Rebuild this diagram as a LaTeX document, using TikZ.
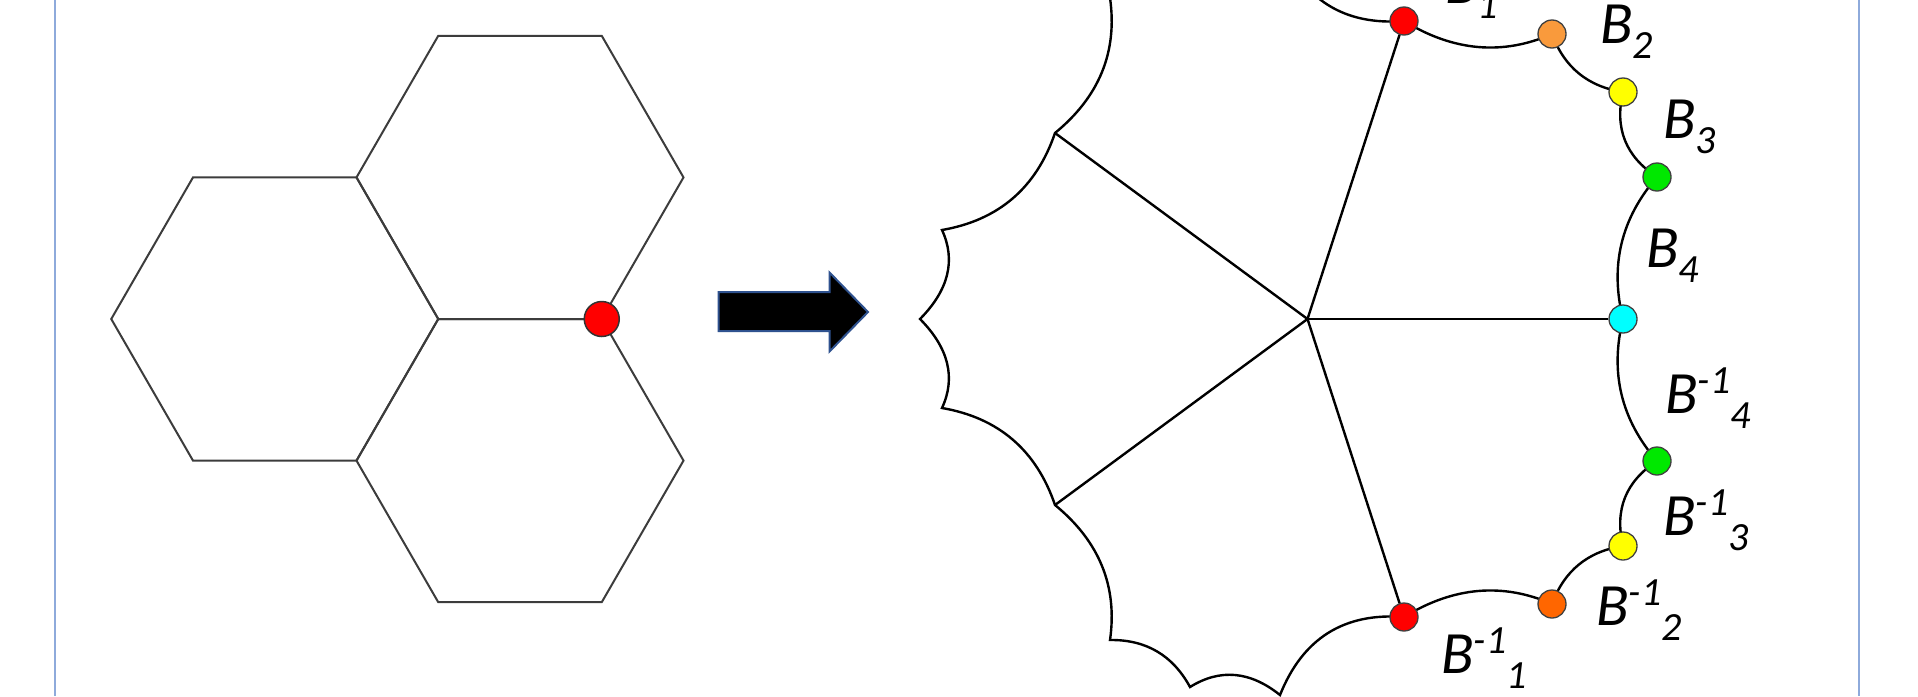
\documentclass[tikz,border=0pt]{standalone}
\usepackage{fontspec}
\setmainfont{Carlito}
\usetikzlibrary{calc}
\definecolor{bordercol}{HTML}{8EAADB}
\definecolor{hexcol}{HTML}{3C3C3C}
\definecolor{arrowedge}{HTML}{2F528F}
\definecolor{dotred}{HTML}{FF0000}
\definecolor{dotorangeA}{HTML}{F99A3C}
\definecolor{dotorangeB}{HTML}{FF6600}
\definecolor{dotyellow}{HTML}{FFFF00}
\definecolor{dotgreen}{HTML}{00E800}
\definecolor{dotcyan}{HTML}{00FFFF}
\newcommand\lblB[1]{B\raisebox{-15pt}{\fontsize{40}{42}\selectfont #1}}
\newcommand\lblBinv[1]{B\raisebox{20pt}{\fontsize{40}{42}\selectfont -1}\raisebox{-15pt}{\fontsize{40}{42}\selectfont #1}}
\begin{document}
\begin{tikzpicture}[x=1pt,y=-1pt,
  hexline/.style={draw=hexcol, line width=2pt, line join=miter},
  figline/.style={draw=black, line width=2.4pt, line join=miter, miter limit=20},
  dotnode/.style={circle, draw=black!75, line width=1.3pt, minimum size=28pt, inner sep=0pt},
  bigdot/.style={circle, draw=black!80, line width=1.5pt, minimum size=35pt, inner sep=0pt, fill=dotred},
  lbl/.style={anchor=base west, inner sep=0pt, font=\fontsize{60}{62}\selectfont\itshape},
  borderline/.style={draw=bordercol, line width=2pt},
  blockarrow/.style={fill=black, draw=arrowedge, line width=2pt, line join=miter}]
\useasboundingbox (0,0) rectangle (1918,696);
\clip (0,0) rectangle (1918,696);
\fill[white] (0,0) rectangle (1918,696);

% frame lines
\coordinate (bl1) at (54.5,0); \coordinate (bl2) at (54.5,696);
\coordinate (br1) at (1859,0); \coordinate (br2) at (1859,696);
\draw[borderline] (bl1) -- (bl2);
\draw[borderline] (br1) -- (br2);

% hexagons
\draw[hexline] (683.5,177.4) -- (601.75,35.8) -- (438.25,35.8) -- (356.5,177.4) -- (438.25,319) -- (601.75,319) -- cycle;
\draw[hexline] (438.25,319) -- (356.5,177.4) -- (193,177.4) -- (111.25,319) -- (193,460.6) -- (356.5,460.6) -- cycle;
\draw[hexline] (683.5,460.6) -- (601.75,319) -- (438.25,319) -- (356.5,460.6) -- (438.25,602.2) -- (601.75,602.2) -- cycle;
\node[bigdot] (vdot) at (601.75,319) {};

% block arrow
\draw[blockarrow] (718.5,292) -- (829.5,292) -- (829.5,272.5) -- (868,312) -- (829.5,351.5) -- (829.5,331) -- (718.5,331) -- cycle;

% right figure: vertices
\coordinate (C) at (1307.5,319);
\coordinate (P0) at (1110,-2);
\coordinate (P1) at (1055,133);
\coordinate (P2) at (942,230);
\coordinate (P3) at (920,319);
\coordinate (P4) at (942,408);
\coordinate (P5) at (1055,505);
\coordinate (P6) at (1110,640);
\coordinate (P7) at (1190,687);
\coordinate (P8) at (1280,695);
\coordinate (rB) at (1404,617);
\coordinate (oB) at (1552,604);
\coordinate (yB) at (1623,546);
\coordinate (gB) at (1657,461);
\coordinate (cy) at (1623,319);
\coordinate (gT) at (1657,177);
\coordinate (yT) at (1623,92);
\coordinate (oT) at (1552,34);
\coordinate (rT) at (1404,21);
\coordinate (P18) at (1280,-57);
\coordinate (P19) at (1190,-49);
% quadratic control points of the arcs
\coordinate (q1) at (1121.5,78.5);
\coordinate (q2) at (1026.9,215.3);
\coordinate (q3) at (963,275.5);
\coordinate (q4) at (963,362.5);
\coordinate (q5) at (1026.9,422.7);
\coordinate (q6) at (1121.5,559.5);
\coordinate (q7) at (1164,639.3);
\coordinate (q8) at (1235,659);
\coordinate (q9) at (1314,610);
\coordinate (q10) at (1478,571.5);
\coordinate (q11) at (1570.3,554);
\coordinate (q12) at (1610,491.5);
\coordinate (q13) at (1603,398.8);
\coordinate (q14) at (1603,239.2);
\coordinate (q15) at (1610,146.5);
\coordinate (q16) at (1570.3,84);
\coordinate (q17) at (1478,66.5);
\coordinate (q18) at (1314,28);
\coordinate (q19) at (1235,-21);
\coordinate (q20) at (1164,-1.3);

\draw[figline] (P0)
  .. controls ($(P0)!2/3!(q1)$) and ($(P1)!2/3!(q1)$) .. (P1)
  .. controls ($(P1)!2/3!(q2)$) and ($(P2)!2/3!(q2)$) .. (P2)
  .. controls ($(P2)!2/3!(q3)$) and ($(P3)!2/3!(q3)$) .. (P3)
  .. controls ($(P3)!2/3!(q4)$) and ($(P4)!2/3!(q4)$) .. (P4)
  .. controls ($(P4)!2/3!(q5)$) and ($(P5)!2/3!(q5)$) .. (P5)
  .. controls ($(P5)!2/3!(q6)$) and ($(P6)!2/3!(q6)$) .. (P6)
  .. controls ($(P6)!2/3!(q7)$) and ($(P7)!2/3!(q7)$) .. (P7)
  .. controls ($(P7)!2/3!(q8)$) and ($(P8)!2/3!(q8)$) .. (P8)
  .. controls ($(P8)!2/3!(q9)$) and ($(rB)!2/3!(q9)$) .. (rB)
  .. controls ($(rB)!2/3!(q10)$) and ($(oB)!2/3!(q10)$) .. (oB)
  .. controls ($(oB)!2/3!(q11)$) and ($(yB)!2/3!(q11)$) .. (yB)
  .. controls ($(yB)!2/3!(q12)$) and ($(gB)!2/3!(q12)$) .. (gB)
  .. controls ($(gB)!2/3!(q13)$) and ($(cy)!2/3!(q13)$) .. (cy)
  .. controls ($(cy)!2/3!(q14)$) and ($(gT)!2/3!(q14)$) .. (gT)
  .. controls ($(gT)!2/3!(q15)$) and ($(yT)!2/3!(q15)$) .. (yT)
  .. controls ($(yT)!2/3!(q16)$) and ($(oT)!2/3!(q16)$) .. (oT)
  .. controls ($(oT)!2/3!(q17)$) and ($(rT)!2/3!(q17)$) .. (rT)
  .. controls ($(rT)!2/3!(q18)$) and ($(P18)!2/3!(q18)$) .. (P18)
  .. controls ($(P18)!2/3!(q19)$) and ($(P19)!2/3!(q19)$) .. (P19)
  .. controls ($(P19)!2/3!(q20)$) and ($(P0)!2/3!(q20)$) .. (P0);

\node[dotnode, fill=dotred] (dRT) at (rT) {};
\node[dotnode, fill=dotorangeA] (dOT) at (oT) {};
\node[dotnode, fill=dotyellow] (dYT) at (yT) {};
\node[dotnode, fill=dotgreen] (dGT) at (gT) {};
\node[dotnode, fill=dotcyan] (dC) at (cy) {};
\node[dotnode, fill=dotgreen] (dGB) at (gB) {};
\node[dotnode, fill=dotyellow] (dYB) at (yB) {};
\node[dotnode, fill=dotorangeB] (dOB) at (oB) {};
\node[dotnode, fill=dotred] (dRB) at (rB) {};

\draw[figline] (C) -- (dRT);
\draw[figline] (C) -- (dRB);
\draw[figline] (C) -- (dC);
\draw[figline] (C) -- (P1);
\draw[figline] (C) -- (P5);

% labels
\node[lbl] (l1) at (1445,3) {\lblB{1}};
\node[lbl] (l2) at (1600,43) {\lblB{2}};
\node[lbl] (l3) at (1663,138) {\lblB{3}};
\node[lbl] (l4) at (1646,267) {\lblB{4}};
\node[lbl] (m4) at (1665,413) {\lblBinv{4}};
\node[lbl] (m3) at (1663,535) {\lblBinv{3}};
\node[lbl] (m2) at (1596,625) {\lblBinv{2}};
\node[lbl] (m1) at (1441,673) {\lblBinv{1}};
\end{tikzpicture}
\end{document}
